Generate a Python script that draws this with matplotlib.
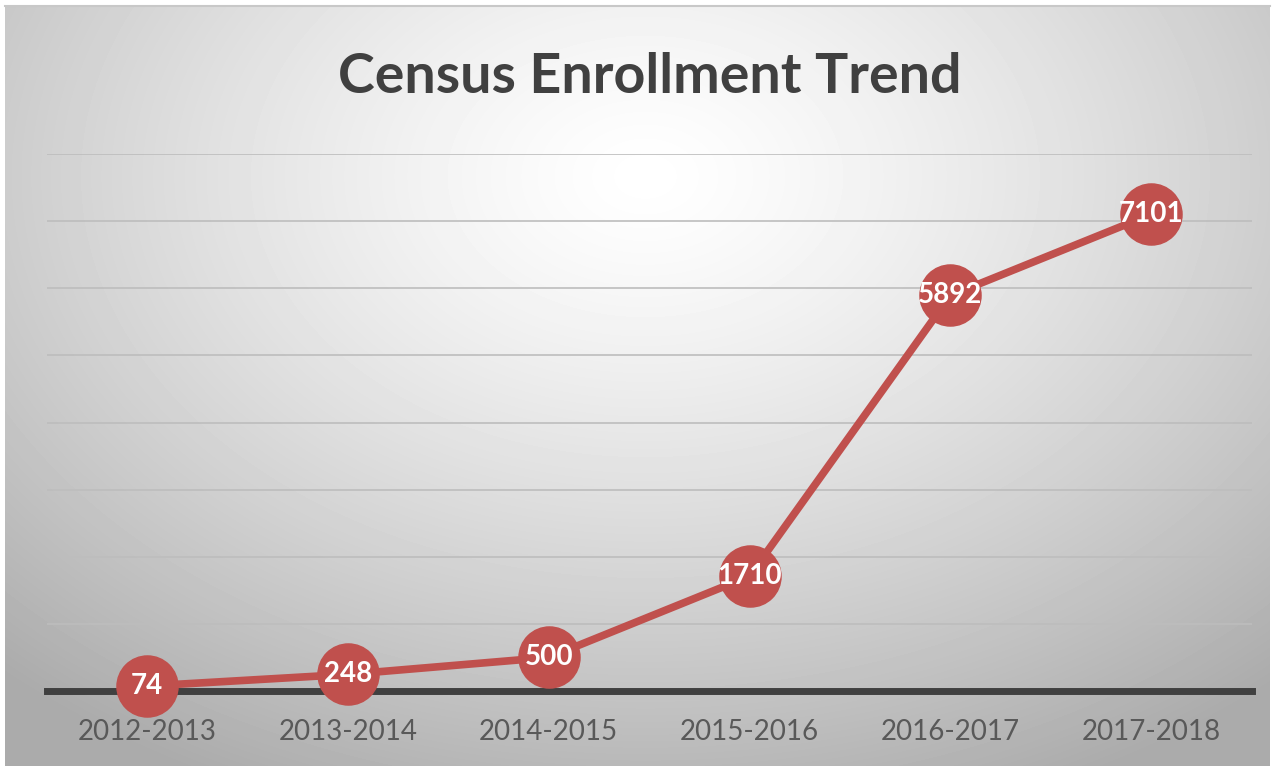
import numpy as np
import matplotlib
matplotlib.use("Agg")
import matplotlib.pyplot as plt

years = ["2012-2013", "2013-2014", "2014-2015", "2015-2016", "2016-2017", "2017-2018"]
enrollment = [74, 248, 500, 1710, 5892, 7101]

red = "#C0504D"

plt.rcParams['font.family'] = ['Lato', 'DejaVu Sans']

fig = plt.figure(figsize=(12.74, 7.68), dpi=100)

# radial grey background behind the chart
bg = fig.add_axes([5 / 1274, 2 / 768, 1265 / 1274, 760 / 768])
yy, xx = np.mgrid[0:760, 0:1265]
d = np.sqrt(((xx - 640) / 1265) ** 2 + ((yy - 170) / 900) ** 2)
shade = 1.0 - 0.33 * np.clip(d / 0.75, 0, 1) ** 1.3
bg.imshow(shade, cmap="gray", vmin=0, vmax=1, aspect="auto", interpolation="bilinear")
bg.set_axis_off()
fig.add_artist(plt.Line2D([5 / 1274, 1270 / 1274], [762 / 768, 762 / 768],
                          color="#c8c8c8", lw=1.5, transform=fig.transFigure))

ax = fig.add_axes([46.6 / 1274, 77 / 768, 1205 / 1274, 537 / 768])
ax.patch.set_alpha(0)
x = np.arange(len(years))
ax.plot(x, enrollment, color=red, lw=5.5, marker="o", markersize=44,
        markerfacecolor=red, markeredgecolor=red, clip_on=False, zorder=5)
for xi, v in zip(x, enrollment):
    ax.text(xi, v, str(v), color="white", fontsize=20, fontweight="bold",
            ha="center", va="center", zorder=6)

ax.set_xlim(-0.5, 5.5)
ax.set_ylim(0, 8000)
ax.set_yticks(np.arange(1000, 8001, 1000))
ax.yaxis.grid(True, color="#bdbdbd", lw=1.2)
ax.set_axisbelow(True)
ax.tick_params(left=False, labelleft=False, bottom=False)
for s in ["top", "right", "left"]:
    ax.spines[s].set_visible(False)
ax.spines["bottom"].set_color("#404040")
ax.spines["bottom"].set_linewidth(5)
ax.set_xticks(x)
ax.set_xticklabels(years, fontsize=20, color="#595959")
ax.tick_params(axis="x", pad=17)

fig.text(0.51, 0.9, "Census Enrollment Trend", fontsize=40, fontweight="bold",
         color="#404040", ha="center", va="center")

fig.savefig("out.png", dpi=100)
